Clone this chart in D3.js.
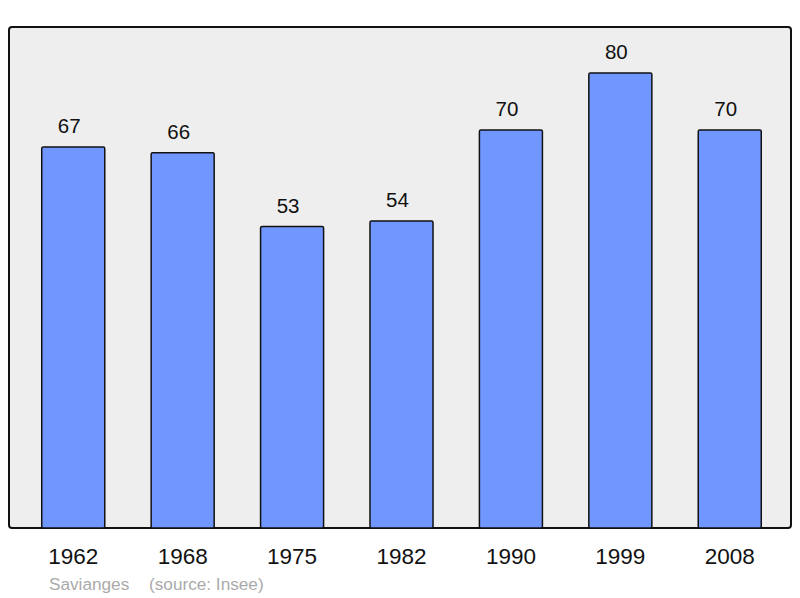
<!DOCTYPE html>
<html>
<head>
<meta charset="utf-8">
<script src="https://cdn.jsdelivr.net/npm/d3@7"></script>
<style>
  body { margin: 0; background: #fff; }
  text { font-family: "Liberation Sans", Arial, sans-serif; }
</style>
</head>
<body>
<svg id="chart" width="800" height="598"></svg>
<script>
// population by census year
const years = ["1962", "1968", "1975", "1982", "1990", "1999", "2008"];
const pop = [67, 66, 53, 54, 70, 80, 70];
const place = "Savianges";
const source = "(source: Insee)";

const w = 800, h = 598;
const box = { left: 9, top: 27, right: 791, bottom: 528 };

const svg = d3.select("#chart");

svg.append("rect")
  .attr("x", box.left).attr("y", box.top)
  .attr("width", box.right - box.left).attr("height", box.bottom - box.top)
  .attr("rx", 3)
  .attr("fill", "#eeeeee")
  .attr("stroke", "#111").attr("stroke-width", 2);

const x = d3.scaleBand()
  .domain(years)
  .range([10, 793])
  .paddingInner(0.424)
  .paddingOuter(0.29);

const y = d3.scaleLinear()
  .domain([0, 80])
  .range([box.bottom, 73]);

svg.selectAll("rect.bar")
  .data(pop)
  .enter()
  .append("rect")
  .attr("class", "bar")
  .attr("x", (d, i) => x(years[i]))
  .attr("y", d => y(d))
  .attr("width", x.bandwidth())
  .attr("height", d => box.bottom - y(d))
  .attr("rx", 1.5)
  .attr("fill", "#7096ff")
  .attr("stroke", "#111").attr("stroke-width", 1.5);

// value labels above bars
svg.selectAll("text.val")
  .data(pop)
  .enter()
  .append("text")
  .attr("class", "val")
  .attr("x", (d, i) => x(years[i]) + x.bandwidth() / 2 - 4)
  .attr("y", d => y(d) - 14)
  .attr("text-anchor", "middle")
  .attr("font-size", 20.5)
  .attr("fill", "#111")
  .text(d => d);

// year labels
svg.selectAll("text.year")
  .data(years)
  .enter()
  .append("text")
  .attr("class", "year")
  .attr("x", d => x(d) + x.bandwidth() / 2)
  .attr("y", 564)
  .attr("text-anchor", "middle")
  .attr("font-size", 22.5)
  .attr("fill", "#111")
  .text(d => d);

svg.append("text")
  .attr("x", 49).attr("y", 590)
  .attr("font-size", 17.2)
  .attr("fill", "#aaaaaa")
  .text(place);

svg.append("text")
  .attr("x", 149).attr("y", 590)
  .attr("font-size", 17.2)
  .attr("fill", "#aaaaaa")
  .text(source);
</script>
</body>
</html>
